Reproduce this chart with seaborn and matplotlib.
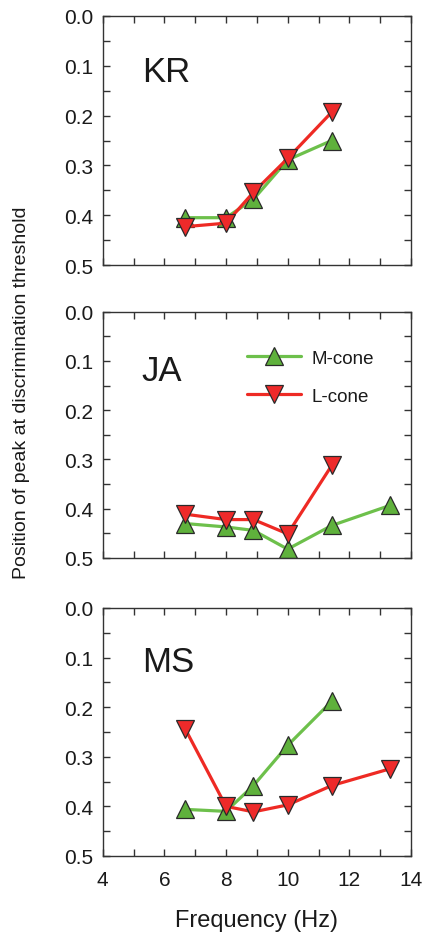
import matplotlib
matplotlib.use("Agg")
import matplotlib.pyplot as plt
from matplotlib.ticker import MultipleLocator
import seaborn as sns
import pandas as pd

# ---- data ----
freq = [6.67, 8.0, 8.89, 10.0, 11.43, 13.33]

kr_m = [0.405, 0.405, 0.368, 0.289, 0.250]
kr_l = [0.423, 0.416, 0.354, 0.286, 0.193]
ja_m = [0.430, 0.437, 0.444, 0.482, 0.434, 0.393]
ja_l = [0.411, 0.422, 0.422, 0.451, 0.312]
ms_m = [0.406, 0.410, 0.358, 0.277, 0.188]
ms_l = [0.243, 0.400, 0.411, 0.397, 0.358, 0.324]

subjects = ["KR", "JA", "MS"]
m_series = [kr_m, ja_m, ms_m]
l_series = [kr_l, ja_l, ms_l]
series_names = ["M-cone", "L-cone"]
x_ticks = [4, 6, 8, 10, 12, 14]
y_ticks = [0.0, 0.1, 0.2, 0.3, 0.4, 0.5]

# ---- style ----
sns.set_theme(style="ticks")
plt.rcParams["font.family"] = ["Liberation Sans", "DejaVu Sans"]

W, H = 422, 937
fig = plt.figure(figsize=(W / 100, H / 100), dpi=100)

green_line = "#6DC04B"
green_fill = "#5FB13C"
red_line = "#EE2A24"
red_fill = "#EE2A2A"
edge = "#2a2a2a"
txt = "#1a1a1a"

# axes boxes in pixels: (top, bottom)
left_px, right_px = 102.7, 411.0
boxes = [(17.0, 266.0), (312.7, 559.0), (609.0, 857.0)]
label_y = [0.777, 0.763, 0.784]

for i, (subj, mv, lv) in enumerate(zip(subjects, m_series, l_series)):
    top, bot = boxes[i]
    ax = fig.add_axes([left_px / W, 1 - bot / H, (right_px - left_px) / W, (bot - top) / H])
    dm = pd.DataFrame({"freq": freq[:len(mv)], "pos": mv})
    dl = pd.DataFrame({"freq": freq[:len(lv)], "pos": lv})
    sns.lineplot(data=dm, x="freq", y="pos", ax=ax, color=green_line, lw=2.3,
                 marker="^", markersize=12.5, markerfacecolor=green_fill,
                 markeredgecolor=edge, markeredgewidth=0.9, label=series_names[0])
    sns.lineplot(data=dl, x="freq", y="pos", ax=ax, color=red_line, lw=2.3,
                 marker="v", markersize=12.5, markerfacecolor=red_fill,
                 markeredgecolor=edge, markeredgewidth=0.9, label=series_names[1])
    ax.set_xlim(4, 14)
    ax.set_ylim(0.5, 0.0)
    ax.set_xticks(x_ticks)
    ax.set_yticks(y_ticks)
    ax.set_yticklabels([f"{v:.1f}" for v in y_ticks])
    ax.xaxis.set_minor_locator(MultipleLocator(1))
    ax.yaxis.set_minor_locator(MultipleLocator(0.05))
    ax.tick_params(which="both", direction="in", length=5, width=1, color="#333333",
                   top=True, right=True, labelsize=15, labelcolor=txt)
    ax.tick_params(axis="y", pad=7)
    ax.tick_params(axis="x", pad=10)
    if i < 2:
        ax.tick_params(axis="x", labelbottom=False)
    for s in ax.spines.values():
        s.set_linewidth(1.0)
        s.set_color("#333333")
    ax.set_xlabel("")
    ax.set_ylabel("")
    ax.text(0.127, label_y[i], subj, transform=ax.transAxes, fontsize=25,
            ha="left", va="center", color=txt)
    leg = ax.get_legend()
    if leg is not None:
        leg.remove()
    if subj == "JA":
        lg = ax.legend(loc="upper left", bbox_to_anchor=(0.468, 0.845), frameon=False,
                       fontsize=13.5, handlelength=2.9, handletextpad=0.55,
                       labelspacing=1.1, borderpad=0, borderaxespad=0)
        for t in lg.get_texts():
            t.set_color(txt)

fig.text(22 / W, 1 - 393 / H, "Position of peak at discrimination threshold",
         rotation=90, ha="center", va="center", fontsize=14, color=txt)
fig.text((left_px + right_px) / 2 / W, 1 - 921 / H, "Frequency (Hz)",
         ha="center", va="center", fontsize=17, color=txt)

fig.savefig("out.png", dpi=100)
